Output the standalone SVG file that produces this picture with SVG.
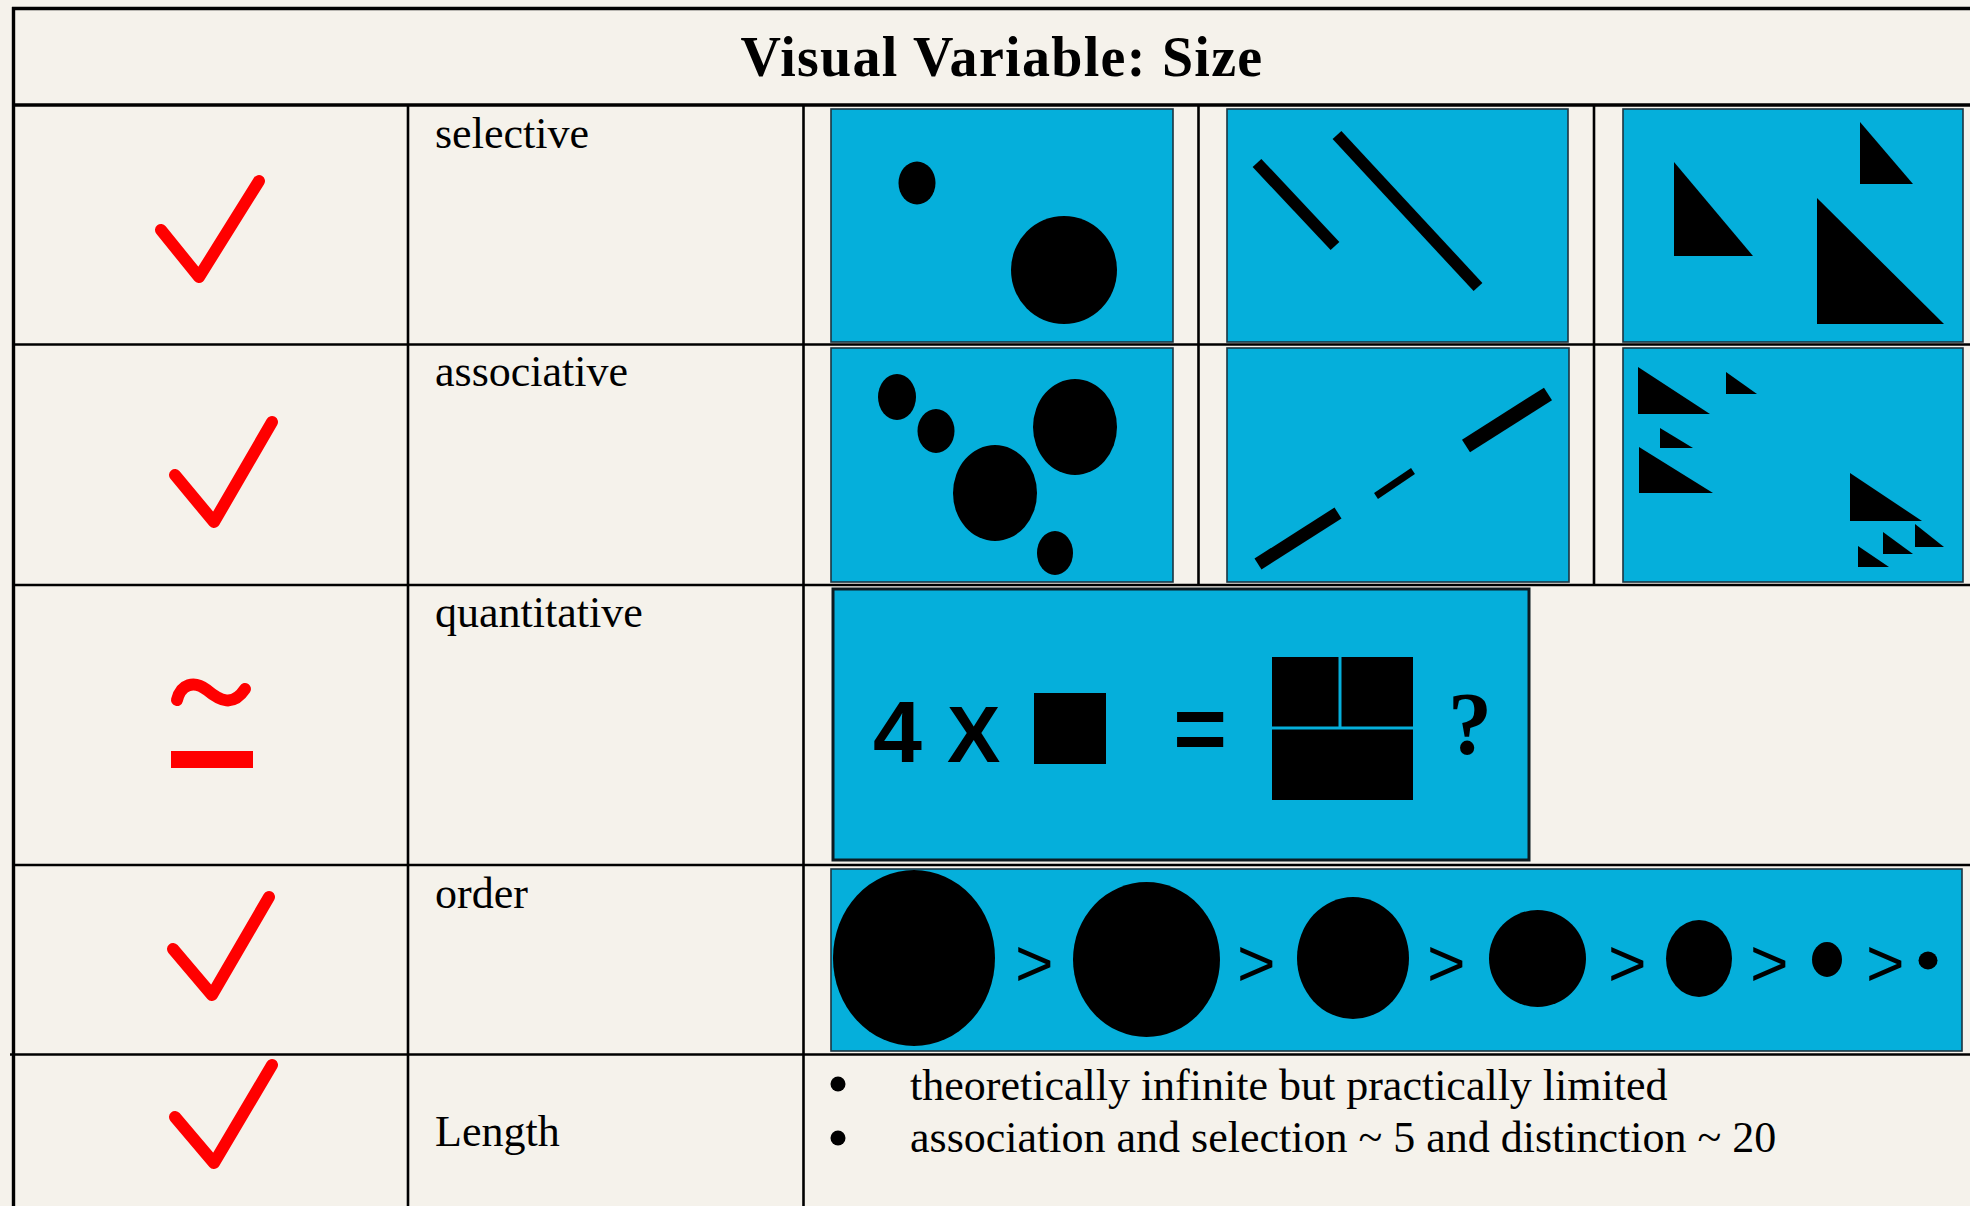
<svg xmlns="http://www.w3.org/2000/svg" width="1970" height="1206" viewBox="0 0 1970 1206">
  <style>
    .rule { stroke: #000; stroke-width: 2.6; fill: none; }
    .rule-heavy { stroke: #000; stroke-width: 3.4; fill: none; }
    .label { font-family: "Liberation Serif", "Times New Roman", serif; font-size: 44px; fill: #000; }
    .title { font-family: "Liberation Serif", "Times New Roman", serif; font-size: 56px; font-weight: bold; letter-spacing: 1.3px; fill: #000; }
    .panel { fill: #05AFDB; stroke: #1c3440; stroke-width: 1.6; }
    .panel-heavy { fill: #05AFDB; stroke: #0d1a20; stroke-width: 3; }
    .ink { fill: #000; }
    .mark { fill: none; stroke: #FF0000; stroke-width: 12; stroke-linecap: round; stroke-linejoin: round; }
    .gt { font-family: "Liberation Sans", Arial, sans-serif; font-size: 66px; fill: #000; }
    .eq { font-family: "Liberation Sans", Arial, sans-serif; font-weight: bold; fill: #000; }
  </style>

  <!-- paper -->
  <rect x="0" y="0" width="1970" height="1206" fill="#F5F2EB"/>

  <!-- table rules -->
  <g id="grid">
    <line class="rule-heavy" x1="12" y1="8.5" x2="1970" y2="8.5"/>
    <line class="rule-heavy" x1="13.5" y1="7" x2="13.5" y2="1206"/>
    <line class="rule-heavy" x1="12" y1="105" x2="1970" y2="105"/>
    <line class="rule" x1="12" y1="344.5" x2="1970" y2="344.5"/>
    <line class="rule" x1="12" y1="585" x2="1970" y2="585"/>
    <line class="rule" x1="12" y1="865" x2="1970" y2="865"/>
    <line class="rule" x1="10" y1="1054.5" x2="1970" y2="1054.5"/>
    <line class="rule" x1="408" y1="105" x2="408" y2="1206"/>
    <line class="rule" x1="803.5" y1="105" x2="803.5" y2="1206"/>
    <line class="rule" x1="1198.5" y1="105" x2="1198.5" y2="585"/>
    <line class="rule" x1="1594" y1="105" x2="1594" y2="585"/>
  </g>

  <!-- heading -->
  <g id="title">
    <text class="title" x="1002" y="76" text-anchor="middle">Visual Variable: Size</text>
  </g>

  <!-- row: selective -->
  <g id="row-selective">
    <path class="mark" d="M161,230 L199,277 L259,181"/>
    <text class="label" x="435" y="148">selective</text>
    <g id="sel-points">
      <rect class="panel" x="831" y="109" width="342" height="233"/>
      <ellipse class="ink" cx="917" cy="183" rx="18.5" ry="21.5"/>
      <ellipse class="ink" cx="1064" cy="270" rx="53" ry="54"/>
    </g>
    <g id="sel-lines">
      <rect class="panel" x="1227" y="109" width="341" height="233"/>
      <line x1="1257" y1="163" x2="1335" y2="246" stroke="#000" stroke-width="12"/>
      <line x1="1337" y1="135" x2="1478" y2="287" stroke="#000" stroke-width="12"/>
    </g>
    <g id="sel-areas">
      <rect class="panel" x="1623" y="109" width="340" height="233"/>
      <polygon class="ink" points="1860,122 1860,184 1913,184"/>
      <polygon class="ink" points="1674,162 1674,256 1753,256"/>
      <polygon class="ink" points="1817,198 1817,324 1944,324"/>
    </g>
  </g>

  <!-- row: associative -->
  <g id="row-associative">
    <path class="mark" d="M175,475 L214,522 L272,422"/>
    <text class="label" x="435" y="386">associative</text>
    <g id="asc-points">
      <rect class="panel" x="831" y="348" width="342" height="234"/>
      <ellipse class="ink" cx="897" cy="397" rx="19" ry="23"/>
      <ellipse class="ink" cx="936" cy="431" rx="18.5" ry="22"/>
      <ellipse class="ink" cx="995" cy="493" rx="42" ry="48"/>
      <ellipse class="ink" cx="1075" cy="427" rx="42" ry="48"/>
      <ellipse class="ink" cx="1055" cy="553" rx="18" ry="22"/>
    </g>
    <g id="asc-lines">
      <rect class="panel" x="1227" y="348" width="342" height="234"/>
      <line x1="1258" y1="564" x2="1338" y2="513" stroke="#000" stroke-width="13"/>
      <line x1="1376" y1="496" x2="1413" y2="471" stroke="#000" stroke-width="7"/>
      <line x1="1466" y1="446" x2="1548" y2="394" stroke="#000" stroke-width="15"/>
    </g>
    <g id="asc-areas">
      <rect class="panel" x="1623" y="348" width="340" height="234"/>
      <polygon class="ink" points="1638,367 1638,414 1710,414"/>
      <polygon class="ink" points="1726,372 1726,394 1757,394"/>
      <polygon class="ink" points="1660,428 1660,448 1693,448"/>
      <polygon class="ink" points="1639,447 1639,493 1713,493"/>
      <polygon class="ink" points="1850,473 1850,521 1922,521"/>
      <polygon class="ink" points="1915,524 1915,547 1944,547"/>
      <polygon class="ink" points="1883,532 1883,554 1913,554"/>
      <polygon class="ink" points="1858,546 1858,567 1889,567"/>
    </g>
  </g>

  <!-- row: quantitative -->
  <g id="row-quantitative">
    <path class="mark" d="M177,700 C181,684 194,680 207,690 C220,701 233,707 245,689" stroke-width="11"/>
    <rect x="171" y="751" width="82" height="17" fill="#FF0000"/>
    <text class="label" x="435" y="627">quantitative</text>
    <g id="quant-sum">
      <rect class="panel-heavy" x="833" y="589" width="696" height="271"/>
      <text class="eq" x="873" y="762" font-size="88">4</text>
      <text class="eq" x="947" y="762" font-size="80">X</text>
      <rect class="ink" x="1034" y="693" width="72" height="71"/>
      <text class="eq" x="1200" y="760" font-size="92" text-anchor="middle">=</text>
      <rect class="ink" x="1272" y="657" width="141" height="143"/>
      <line x1="1340" y1="657" x2="1340" y2="728" stroke="#05AFDB" stroke-width="3"/>
      <line x1="1272" y1="728" x2="1413" y2="728" stroke="#05AFDB" stroke-width="3"/>
      <text x="1448" y="753" font-family="Liberation Serif, Times New Roman, serif" font-weight="bold" font-size="88" fill="#000">?</text>
    </g>
  </g>

  <!-- row: order -->
  <g id="row-order">
    <path class="mark" d="M173,949 L212,995 L269,897"/>
    <text class="label" x="435" y="908">order</text>
    <g id="order-sequence">
      <rect class="panel" x="831" y="869" width="1131" height="182"/>
      <ellipse class="ink" cx="914" cy="958" rx="81" ry="88"/>
      <ellipse class="ink" cx="1146.5" cy="959.5" rx="73.5" ry="77.5"/>
      <ellipse class="ink" cx="1353" cy="958" rx="56" ry="61"/>
      <ellipse class="ink" cx="1537.5" cy="958.5" rx="48.5" ry="48.5"/>
      <ellipse class="ink" cx="1699" cy="958.5" rx="33" ry="38.5"/>
      <ellipse class="ink" cx="1827" cy="959.5" rx="15" ry="17.5"/>
      <ellipse class="ink" cx="1928" cy="960.5" rx="9.5" ry="9"/>
      <text class="gt" x="1015" y="986">&gt;</text>
      <text class="gt" x="1237" y="986">&gt;</text>
      <text class="gt" x="1427" y="986">&gt;</text>
      <text class="gt" x="1608" y="986">&gt;</text>
      <text class="gt" x="1750" y="986">&gt;</text>
      <text class="gt" x="1866" y="986">&gt;</text>
    </g>
  </g>

  <!-- row: length -->
  <g id="row-length">
    <path class="mark" d="M175,1117 L214,1163 L272,1065"/>
    <text class="label" x="435" y="1146">Length</text>
    <g id="length-notes">
      <circle class="ink" cx="838" cy="1084" r="7.5"/>
      <text class="label" x="910" y="1100">theoretically infinite but practically limited</text>
      <circle class="ink" cx="838" cy="1138" r="7.5"/>
      <text class="label" x="910" y="1152">association and selection ~ 5 and distinction ~ 20</text>
    </g>
  </g>
</svg>
